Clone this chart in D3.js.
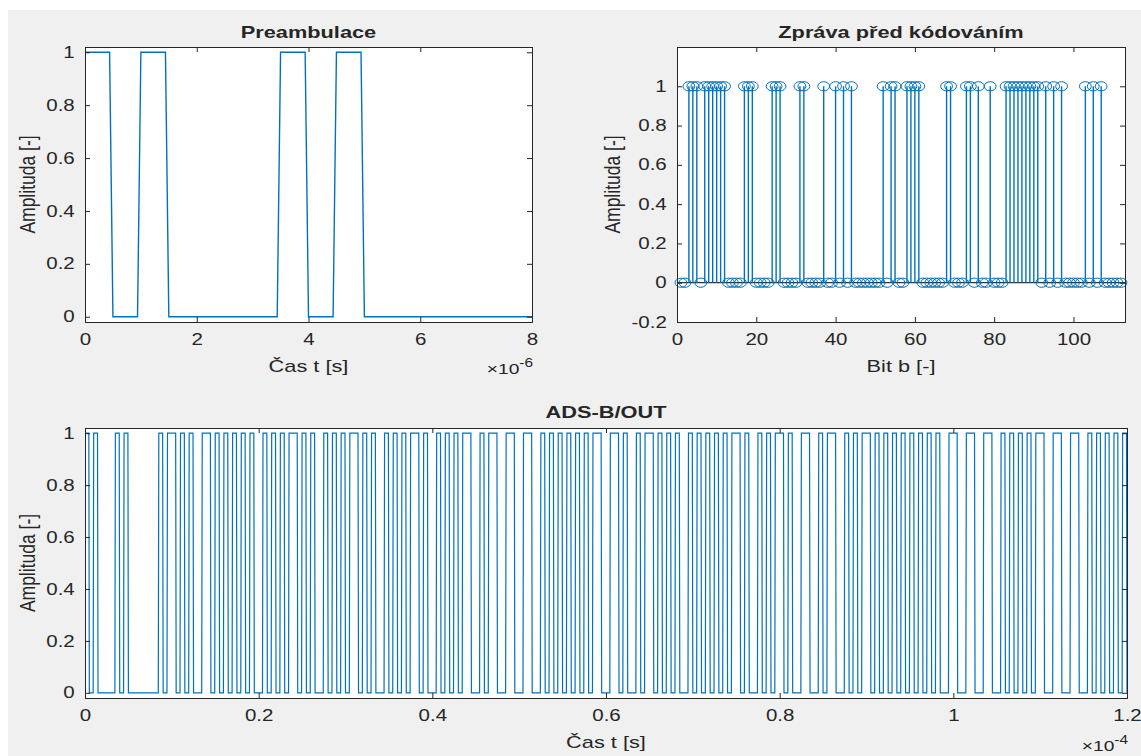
<!DOCTYPE html>
<html>
<head>
<meta charset="utf-8">
<script src="https://cdn.jsdelivr.net/npm/d3@7/dist/d3.min.js"></script>
<style>
  html, body { margin: 0; padding: 0; background: #ffffff; }
  svg { display: block; }
  text { font-family: "Liberation Sans", Arial, Helvetica, sans-serif; fill: #262626; }
</style>
</head>
<body>
<svg id="chart" width="1141" height="756"></svg>
<script>
// ---------------- DATA ----------------
// Preamble pulses (start, end) in microseconds
const preamblePulses = [[0, 0.5], [1, 1.5], [3.5, 4], [4.5, 5]];
const preambleLength = 8;          // µs
const sampleStep = 0.06;           // µs, sampling step of the drawn signal

// 112 message bits (before PPM coding)
const messageBits = [
  0,0,1,1,1,0,1,1,1,1, 1,1,0,0,0,0,1,1,1,0,
  0,0,0,1,1,1,0,0,0,0, 1,1,0,0,0,0,1,0,0,1,
  0,1,0,1,0,0,0,0,0,0, 0,1,0,1,1,0,0,1,1,1,
  1,0,0,0,0,0,0,1,1,0, 0,0,1,1,0,1,0,0,1,0,
  0,0,1,1,1,1,1,1,1,1, 1,0,1,0,1,0,1,0,0,0,
  0,0,1,0,1,0,1,0,0,0, 0,0
];

// Tick values and labels
const preTicks = [0, 2, 4, 6, 8];
const preTickLabels = ["0", "2", "4", "6", "8"];
const ampTicks = [0, 0.2, 0.4, 0.6, 0.8, 1];
const ampTickLabels = ["0", "0.2", "0.4", "0.6", "0.8", "1"];
const bitTicks = [0, 20, 40, 60, 80, 100];
const bitTickLabels = ["0", "20", "40", "60", "80", "100"];
const stemYTicks = [-0.2, 0, 0.2, 0.4, 0.6, 0.8, 1];
const stemYTickLabels = ["-0.2", "0", "0.2", "0.4", "0.6", "0.8", "1"];
const adsTicks = [0, 20, 40, 60, 80, 100, 120];
const adsTickLabels = ["0", "0.2", "0.4", "0.6", "0.8", "1", "1.2"];

const titles = ["Preambulace", "Zpráva před kódováním", "ADS-B/OUT"];
const xLabels = ["Čas t [s]", "Bit b [-]", "Čas t [s]"];
const yLabel = "Amplituda [-]";

// ---------------- STYLE ----------------
const lineColor = "#0072BD";
const axisColor = "#262626";
const SX = 1.28;   // horizontal stretch of the original rendering

const svg = d3.select("#chart");
svg.append("rect").attr("x", 8).attr("y", 10).attr("width", 1133).attr("height", 746).attr("fill", "#f0f0f0");

// build a sampled step waveform from pulse intervals
function waveform(pulses, total) {
  const merged = [];
  pulses.forEach(p => {
    const last = merged[merged.length - 1];
    if (last && Math.abs(last[1] - p[0]) < 1e-9) last[1] = p[1];
    else merged.push([p[0], p[1]]);
  });
  const pts = [];
  if (!merged.length || merged[0][0] > 0) pts.push([0, 0]);
  merged.forEach(([s, e]) => {
    if (s > 0) { pts.push([s - sampleStep, 0]); pts.push([s, 1]); }
    else pts.push([0, 1]);
    pts.push([e - sampleStep, 1]); pts.push([e, 0]);
  });
  pts.push([total, 0]);
  return pts;
}

// PPM coding: bit 1 -> pulse in first half, bit 0 -> pulse in second half
const ppmPulses = preamblePulses.concat(messageBits.map((b, k) => {
  const s = preambleLength + k;
  return b ? [s, s + 0.5] : [s + 0.5, s + 1];
}));
const totalTime = preambleLength + messageBits.length;

function makeAxes(box, xDomain, yDomain, xt, xtl, yt, ytl) {
  const g = svg.append("g");
  const x = d3.scaleLinear().domain(xDomain).range([box.l, box.r]);
  const y = d3.scaleLinear().domain(yDomain).range([box.b, box.t]);
  g.append("rect").attr("x", box.l).attr("y", box.t).attr("width", box.r - box.l).attr("height", box.b - box.t).attr("fill", "#ffffff");
  const clip = "clip" + Math.round(box.l) + "_" + Math.round(box.t);
  svg.append("clipPath").attr("id", clip).append("rect").attr("x", box.l).attr("y", box.t).attr("width", box.r - box.l).attr("height", box.b - box.t);
  const tl = 5;
  const xAxisB = d3.axisBottom(x).tickValues(xt).tickFormat((d, i) => xtl[i]).tickSize(-tl).tickPadding(12);
  const xAxisT = d3.axisTop(x).tickValues(xt).tickFormat("").tickSize(-tl);
  const yAxisL = d3.axisLeft(y).tickValues(yt).tickFormat((d, i) => ytl[i]).tickSize(-tl).tickPadding(8);
  const yAxisR = d3.axisRight(y).tickValues(yt).tickFormat("").tickSize(-tl);
  return { g, x, y, clip, box, draw() {
    const axes = svg.append("g");
    [[xAxisB, `translate(0,${box.b})`], [xAxisT, `translate(0,${box.t})`], [yAxisL, `translate(${box.l},0)`], [yAxisR, `translate(${box.r},0)`]].forEach(([a, t]) => {
      const ag = axes.append("g").attr("transform", t).call(a);
      ag.select(".domain").attr("stroke", axisColor).attr("stroke-width", 1);
      ag.selectAll(".tick line").attr("stroke", axisColor).attr("stroke-width", 1);
      ag.selectAll(".tick text").attr("fill", axisColor).style("font-size", "16px")
        .style("font-family", '"Liberation Sans", Arial, sans-serif')
        .attr("transform", `scale(${SX},1)`);
    });
  }};
}

function stretchedText(x, y, str, size, opts = {}) {
  const g = svg.append("g").attr("transform", `translate(${x},${y}) scale(${SX},1)` + (opts.rotate ? ` rotate(${opts.rotate})` : ""));
  const t = g.append("text").attr("x", 0).attr("y", 0).attr("text-anchor", opts.anchor || "middle")
    .style("font-size", size + "px");
  if (opts.bold) t.style("font-weight", "bold").attr("fill", "#000");
  t.text(str);
  return t;
}

function addLabels(box, title, xl, yLabelX, titleY, xLabelY) {
  const cx = (box.l + box.r) / 2, cy = (box.t + box.b) / 2;
  stretchedText(cx, titleY, title, 17, { bold: true });
  stretchedText(cx, xLabelY, xl, 17);
  stretchedText(yLabelX, cy, yLabel, 17.5, { rotate: -90 });
}

function addExponent(xRight, yPos, exp) {
  const g = svg.append("g").attr("transform", `translate(${xRight},${yPos}) scale(${SX},1)`);
  const t = g.append("text").attr("text-anchor", "end").style("font-size", "15px");
  t.append("tspan").text("×10");
  t.append("tspan").attr("dy", -7).style("font-size", "12px").text(exp);
}

const line = (ax) => d3.line().x(d => ax.x(d[0])).y(d => ax.y(d[1]));

// ---------- Top-left: Preambulace ----------
const boxTL = { l: 85, r: 532, t: 47, b: 322 };
const axTL = makeAxes(boxTL, [0, preambleLength], [-0.02, 1.02], preTicks, preTickLabels, ampTicks, ampTickLabels);
axTL.g.append("path").datum(waveform(preamblePulses, preambleLength))
  .attr("clip-path", `url(#${axTL.clip})`)
  .attr("d", line(axTL)).attr("fill", "none").attr("stroke", lineColor).attr("stroke-width", 1.4);
axTL.draw();
addLabels(boxTL, titles[0], xLabels[0], 35, 38, 372);
addExponent(533, 374, "-6");

// ---------- Top-right: stem plot ----------
const boxTR = { l: 677, r: 1125, t: 47, b: 322 };
const axTR = makeAxes(boxTR, [0, messageBits.length + 1], [-0.2, 1.2], bitTicks, bitTickLabels, stemYTicks, stemYTickLabels);
axTR.g.append("line").attr("x1", boxTR.l).attr("x2", boxTR.r).attr("y1", axTR.y(0)).attr("y2", axTR.y(0))
  .attr("stroke", "#000").attr("stroke-width", 1);
const stems = axTR.g.append("g");
stems.selectAll("line.stem").data(messageBits.map((b, i) => [i + 1, b]).filter(d => d[1] !== 0)).enter().append("line")
  .attr("x1", d => axTR.x(d[0])).attr("x2", d => axTR.x(d[0]))
  .attr("y1", axTR.y(0)).attr("y2", d => axTR.y(d[1]))
  .attr("stroke", lineColor).attr("stroke-width", 1.4);
stems.selectAll("ellipse").data(messageBits.map((b, i) => [i + 1, b])).enter().append("ellipse")
  .attr("cx", d => axTR.x(d[0])).attr("cy", d => axTR.y(d[1])).attr("rx", 4.6 * SX).attr("ry", 4.6)
  .attr("fill", "none").attr("stroke", lineColor).attr("stroke-width", 1);
axTR.draw();
addLabels(boxTR, titles[1], xLabels[1], 620, 38, 372);

// ---------- Bottom: ADS-B/OUT ----------
const boxB = { l: 85, r: 1127, t: 428, b: 698 };
const axB = makeAxes(boxB, [0, totalTime], [-0.02, 1.02], adsTicks, adsTickLabels, ampTicks, ampTickLabels);
axB.g.append("path").datum(waveform(ppmPulses, totalTime))
  .attr("clip-path", `url(#${axB.clip})`)
  .attr("d", line(axB)).attr("fill", "none").attr("stroke", lineColor).attr("stroke-width", 1.2);
axB.draw();
addLabels(boxB, titles[2], xLabels[2], 35, 418, 748);
addExponent(1128, 751, "-4");
</script>
</body>
</html>
